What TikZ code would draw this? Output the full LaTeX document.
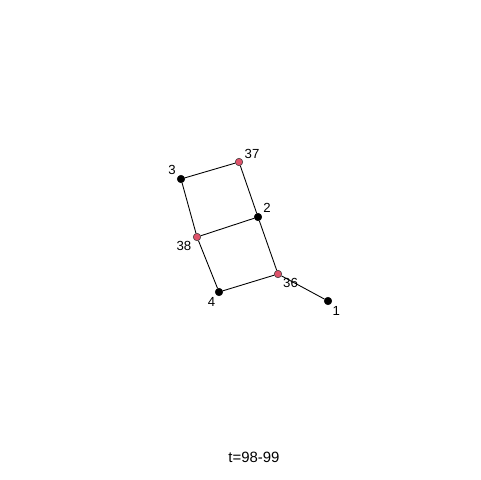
\documentclass[tikz,border=0pt]{standalone}
\usepackage{fontspec}
\setmainfont{Liberation Sans}
\usepackage{xcolor}
\definecolor{vred}{HTML}{DF536B}
\tikzset{
  vtx/.style={circle, draw=black, fill=black, inner sep=0pt, minimum size=0.15cm, line width=0.3pt},
  vtxred/.style={vtx, fill=vred, draw=black!80},
  lbl/.style={font=\fontsize{7.5}{8}\selectfont, inner sep=1pt, label distance=0pt},
  edge/.style={line width=0.5pt}
}
\begin{document}
\begin{tikzpicture}[x=0.02cm, y=-0.02cm]
\useasboundingbox (0,0) rectangle (480,480);
% vertices
\node[vtxred, label={[lbl]25:37}] (v37) at (239,162) {};
\node[vtx, label={[lbl]145:3}] (v3) at (181,179) {};
\node[vtx, label={[lbl]35:2}] (v2) at (258,217) {};
\node[vtxred, label={[lbl]205:38}] (v38) at (197,237) {};
\node[vtxred, label={[lbl]-40:36}] (v36) at (278,274) {};
\node[vtx, label={[lbl]-115:4}] (v4) at (219,292) {};
\node[vtx, label={[lbl]-50:1}] (v1) at (328,301) {};
% edges
\draw[edge] (v3) -- (v37);
\draw[edge] (v37) -- (v2);
\draw[edge] (v3) -- (v38);
\draw[edge] (v38) -- (v2);
\draw[edge] (v38) -- (v4);
\draw[edge] (v4) -- (v36);
\draw[edge] (v2) -- (v36);
\draw[edge] (v36) -- (v1);
\node[lbl, font=\fontsize{8.5}{9}\selectfont] (title) at (254,457) {t=98-99};
\end{tikzpicture}
\end{document}
